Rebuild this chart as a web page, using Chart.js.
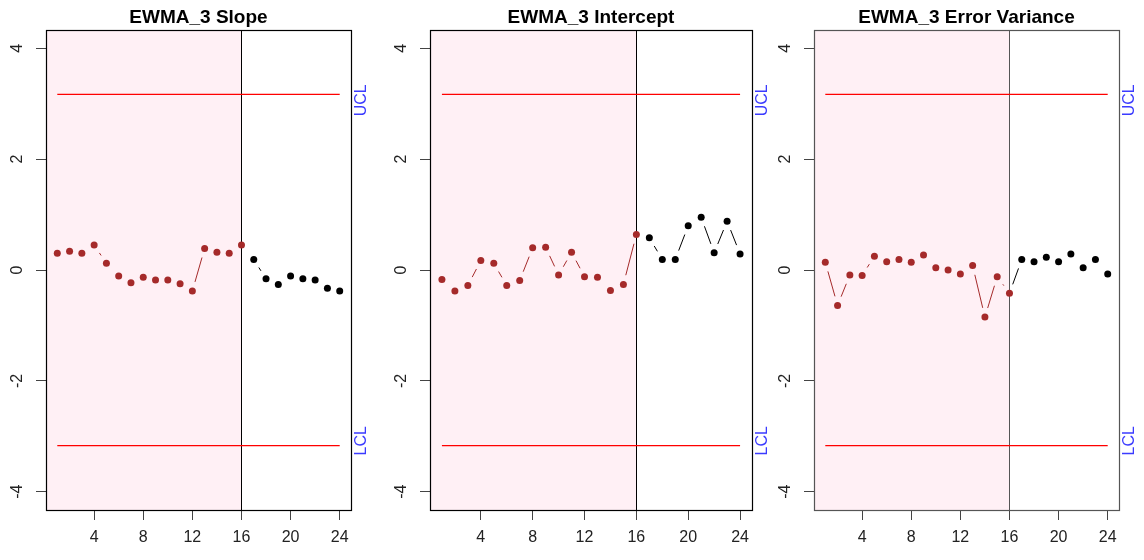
<!DOCTYPE html>
<html>
<head>
<meta charset="utf-8">
<title>EWMA_3 control charts</title>
<script src="https://cdn.jsdelivr.net/npm/chart.js@4.4.0/dist/chart.umd.min.js"></script>
<style>
  html, body { margin: 0; padding: 0; background: #fff; }
  body { width: 1144px; height: 560px; position: relative; overflow: hidden; }
  canvas { position: absolute; top: 0; }
</style>
</head>
<body>
<canvas id="c1" width="381" height="560" style="left:0px"></canvas>
<canvas id="c2" width="398" height="560" style="left:384px"></canvas>
<canvas id="c3" width="376" height="560" style="left:768px"></canvas>
<script>
// --- data ---
const timePoints = [1, 2, 3, 4, 5, 6, 7, 8, 9, 10, 11, 12, 13, 14, 15, 16, 17, 18, 19, 20, 21, 22, 23, 24];
const slopeValues = [0.30, 0.34, 0.30, 0.45, 0.12, -0.11, -0.23, -0.13, -0.18, -0.18, -0.25, -0.38,
                     0.39, 0.32, 0.30, 0.45, 0.19, -0.16, -0.26, -0.11, -0.16, -0.18, -0.33, -0.38];
const interceptValues = [-0.17, -0.38, -0.28, 0.17, 0.12, -0.28, -0.19, 0.40, 0.41, -0.09, 0.32, -0.12,
                         -0.13, -0.37, -0.26, 0.64, 0.58, 0.19, 0.19, 0.80, 0.95, 0.31, 0.88, 0.29];
const errorVarianceValues = [0.14, -0.64, -0.09, -0.10, 0.25, 0.15, 0.19, 0.14, 0.27, 0.04, 0.00, -0.07,
                             0.08, -0.85, -0.12, -0.42, 0.19, 0.15, 0.23, 0.15, 0.29, 0.04, 0.19, -0.07];
const panelTitles = ["EWMA_3 Slope", "EWMA_3 Intercept", "EWMA_3 Error Variance"];
const phaseEnd = 16;          // last point of phase I (shaded)
const ucl = 3.17;
const lcl = -3.17;
const xTickValues = [4, 8, 12, 16, 20, 24];
const yTickValues = [-4, -2, 0, 2, 4];

const FONT = "'Liberation Sans', Arial, sans-serif";
const BROWN = "#a52a2a";

// R style extras: shaded phase, box, gapped connecting segments, rotated labels
const rPanel = {
    id: "rPanel",
    beforeDatasetsDraw(chart, args, opts) {
        const { ctx, chartArea: a, scales: { x, y } } = chart;
        const xs = x.getPixelForValue(phaseEnd);
        ctx.save();
        ctx.fillStyle = "#fff0f5";
        ctx.fillRect(a.left, a.top, xs - a.left, a.bottom - a.top);
        ctx.strokeStyle = opts.frame;
        ctx.lineWidth = 1;
        ctx.beginPath();
        ctx.moveTo(Math.round(xs) + 0.5, a.top);
        ctx.lineTo(Math.round(xs) + 0.5, a.bottom);
        ctx.stroke();

        // type = "b": segments between points, cut back around each point
        const pts = [];
        chart.data.datasets.forEach((ds, i) => {
            if (!ds.series) return;
            chart.getDatasetMeta(i).data.forEach(el => pts.push({ x: el.x, y: el.y, c: ds.backgroundColor }));
        });
        const gap = 9.5;
        ctx.lineWidth = 1;
        for (let i = 0; i < pts.length - 1; i++) {
            const p = pts[i], q = pts[i + 1];
            const dx = q.x - p.x, dy = q.y - p.y;
            const d = Math.hypot(dx, dy);
            if (d <= 2 * gap) continue;
            const ux = dx / d, uy = dy / d;
            ctx.strokeStyle = q.c;
            ctx.beginPath();
            ctx.moveTo(p.x + ux * gap, p.y + uy * gap);
            ctx.lineTo(q.x - ux * gap, q.y - uy * gap);
            ctx.stroke();
        }
        ctx.restore();
    },
    afterDatasetsDraw(chart, args, opts) {
        const { ctx, chartArea: a, scales: { y } } = chart;
        ctx.save();
        ctx.strokeStyle = opts.frame;
        ctx.lineWidth = 1.2;
        ctx.strokeRect(Math.round(a.left) + 0.5, Math.round(a.top) + 0.5,
                       Math.round(a.right - a.left), Math.round(a.bottom - a.top));

        // y tick labels, parallel to the axis
        ctx.fillStyle = "#222";
        ctx.font = "16px " + FONT;
        ctx.textAlign = "center";
        ctx.textBaseline = "middle";
        y.ticks.forEach(t => {
            ctx.save();
            ctx.translate(a.left - 28.5, y.getPixelForValue(t.value));
            ctx.rotate(-Math.PI / 2);
            ctx.fillText(String(t.value), 0, 0);
            ctx.restore();
        });

        // control limit labels in the right margin
        ctx.fillStyle = "#3b3bff";
        [["UCL", y.getPixelForValue(ucl) + 6], ["LCL", y.getPixelForValue(lcl) - 5]].forEach(([txt, yp]) => {
            ctx.save();
            ctx.translate(a.right + 10.5, yp);
            ctx.rotate(-Math.PI / 2);
            ctx.fillText(txt, 0, 0);
            ctx.restore();
        });
        ctx.restore();
    }
};

function makePanel(canvasId, title, values, rightPad, frame) {
    const ctx = document.getElementById(canvasId).getContext("2d");
    const phase1 = [], phase2 = [];
    timePoints.forEach((t, i) => {
        (t <= phaseEnd ? phase1 : phase2).push({ x: t, y: values[i] });
    });
    const first = timePoints[0], last = timePoints[timePoints.length - 1];

    return new Chart(ctx, {
        type: "scatter",
        data: {
            datasets: [
                { data: phase1, series: true, backgroundColor: BROWN, pointRadius: 3.5, pointBorderWidth: 0, showLine: false },
                { data: phase2, series: true, backgroundColor: "#000", pointRadius: 3.5, pointBorderWidth: 0, showLine: false },
                { type: "line", data: [{ x: first, y: ucl }, { x: last, y: ucl }], borderColor: "#ff0000", borderWidth: 1.3, pointRadius: 0 },
                { type: "line", data: [{ x: first, y: lcl }, { x: last, y: lcl }], borderColor: "#ff0000", borderWidth: 1.3, pointRadius: 0 }
            ]
        },
        options: {
            responsive: false,
            animation: false,
            layout: { padding: { top: 0, left: 0, right: rightPad, bottom: 0 } },
            plugins: {
                legend: { display: false },
                tooltip: { enabled: false },
                title: {
                    display: true,
                    text: title,
                    fullSize: false,
                    color: "#000",
                    font: { family: FONT, size: 19, weight: "bold", lineHeight: 1 },
                    padding: { top: 8, bottom: 3 }
                },
                rPanel: { frame: frame }
            },
            scales: {
                x: {
                    type: "linear",
                    min: 0.08,
                    max: 24.92,
                    afterBuildTicks: s => { s.ticks = xTickValues.map(v => ({ value: v })); },
                    afterFit: s => { s.height = 50; },
                    border: { display: false },
                    grid: { drawOnChartArea: false, drawTicks: true, tickLength: 10, color: "#444" },
                    ticks: { color: "#222", font: { family: FONT, size: 16 }, padding: 8, maxRotation: 0, autoSkip: false }
                },
                y: {
                    type: "linear",
                    min: -4.33,
                    max: 4.33,
                    afterBuildTicks: s => { s.ticks = yTickValues.map(v => ({ value: v })); },
                    afterFit: s => { s.width = 46; },
                    border: { display: false },
                    grid: { drawOnChartArea: false, drawTicks: true, tickLength: 10, color: "#444" },
                    ticks: { display: false }
                }
            }
        },
        plugins: [rPanel]
    });
}

makePanel("c1", panelTitles[0], slopeValues, 30, "#000");
makePanel("c2", panelTitles[1], interceptValues, 30, "#000");
makePanel("c3", panelTitles[2], errorVarianceValues, 25, "#555");
</script>
</body>
</html>
